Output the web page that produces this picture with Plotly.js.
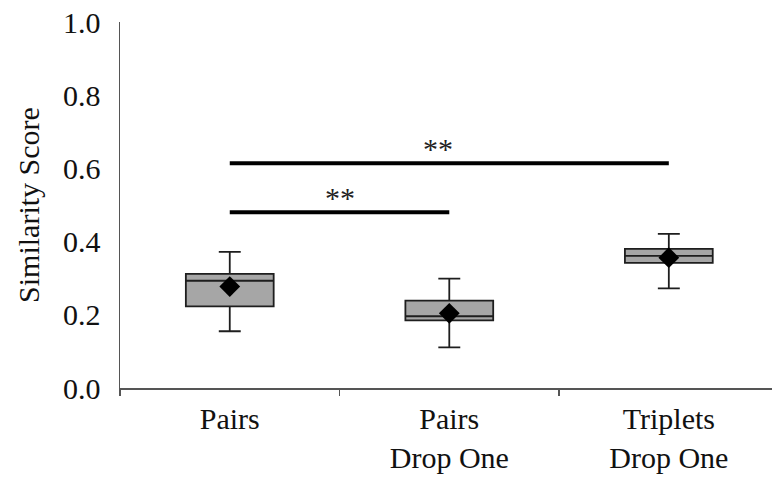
<!DOCTYPE html>
<html>
<head>
<meta charset="utf-8">
<script src="https://cdn.plot.ly/plotly-3.0.1.min.js"></script>
<style>html,body{margin:0;padding:0;background:#fff;}#chart{width:772px;height:479px;}</style>
</head>
<body>
<div id="chart"></div>
<script>
const categories = ["Pairs", "Pairs<br>Drop One", "Triplets<br>Drop One"];
const lowerWhisker = [0.155, 0.111, 0.272];
const q1 = [0.223, 0.185, 0.342];
const median = [0.293, 0.196, 0.361];
const q3 = [0.312, 0.239, 0.380];
const upperWhisker = [0.372, 0.299, 0.421];
const means = [0.277, 0.204, 0.356];

const sigFrom = [0, 0];
const sigTo = [1, 2];
const sigY = [0.48, 0.614];
const sigLabel = ["**", "**"];

const yTickVals = [0, 0.2, 0.4, 0.6, 0.8, 1.0];
const yTickText = ["0.0", "0.2", "0.4", "0.6", "0.8", "1.0"];

const FONT = "Liberation Serif";
const TXT = "#111";

const traces = [{
  type: "box",
  x: categories,
  q1: q1,
  median: median,
  q3: q3,
  lowerfence: lowerWhisker,
  upperfence: upperWhisker,
  width: 0.4,
  whiskerwidth: 0.25,
  fillcolor: "#a6a6a6",
  line: {color: "#1e1e1e", width: 1.8},
  boxpoints: false,
  hoverinfo: "skip",
  showlegend: false
}, {
  type: "scatter",
  mode: "markers",
  x: categories,
  y: means,
  marker: {symbol: "diamond", size: 16, color: "#000"},
  hoverinfo: "skip",
  showlegend: false
}];

const annotations = [];
for (let i = 0; i < sigFrom.length; i++) {
  traces.push({
    type: "scatter",
    mode: "lines",
    x: [categories[sigFrom[i]], categories[sigTo[i]]],
    y: [sigY[i], sigY[i]],
    line: {color: "#000", width: 4},
    hoverinfo: "skip",
    showlegend: false
  });
  annotations.push({
    x: (sigFrom[i] + sigTo[i]) / 2 - (sigTo[i] - sigFrom[i] - 1) * 0.05,
    y: sigY[i],
    xref: "x", yref: "y",
    text: sigLabel[i],
    showarrow: false,
    yanchor: "bottom",
    yshift: -4,
    font: {family: FONT, size: 30, color: "#222"}
  });
}

const layout = {
  width: 772,
  height: 479,
  margin: {l: 120, r: 0, t: 22, b: 91, pad: 0},
  paper_bgcolor: "#fff",
  plot_bgcolor: "#fff",
  font: {family: FONT, size: 30, color: TXT},
  xaxis: {
    type: "category",
    categoryorder: "array",
    categoryarray: categories,
    range: [-0.5, 2.47],
    showline: true,
    linecolor: "#555",
    linewidth: 1.5,
    ticks: "outside",
    tickson: "boundaries",
    ticklen: 6,
    tickcolor: "#555",
    tickwidth: 1.5,
    ticklabelstandoff: 3,
    showgrid: false,
    zeroline: false,
    tickfont: {family: FONT, size: 30, color: TXT},
    fixedrange: true
  },
  yaxis: {
    range: [0, 1.0],
    tickvals: yTickVals,
    ticktext: yTickText,
    showline: true,
    linecolor: "#555",
    linewidth: 1.5,
    ticks: "",
    showgrid: false,
    zeroline: false,
    ticklabelstandoff: 12,
    tickfont: {family: FONT, size: 30, color: TXT},
    title: {text: "Similarity Score", font: {family: FONT, size: 30, color: TXT}, standoff: 14},
    fixedrange: true
  },
  annotations: annotations,
  showlegend: false
};

Plotly.newPlot("chart", traces, layout, {displayModeBar: false, staticPlot: true});
</script>
</body>
</html>
